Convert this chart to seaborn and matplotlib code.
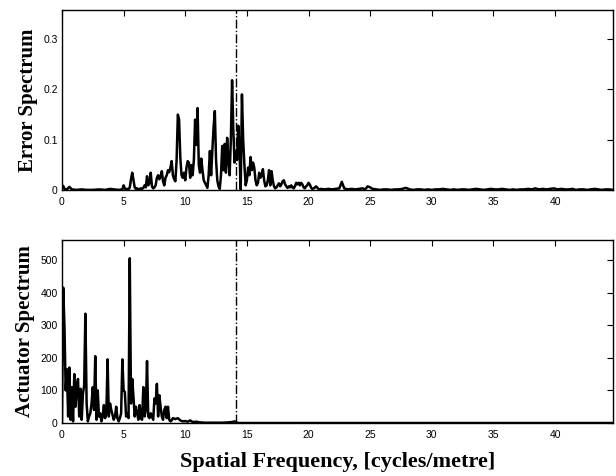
import numpy as np
import pandas as pd
import matplotlib
matplotlib.use("Agg")
import matplotlib.pyplot as plt
import seaborn as sns

# ---- data ----
# error spectrum, low-frequency part (sparse)
err_freq_low = [0, 0.1, 0.2, 0.4, 0.6, 0.8, 1.2, 1.6, 2.0, 2.5, 3.0, 3.5, 3.9, 4.2, 4.6, 4.9]
err_vals_low = [0.004, 0.009, 0.003, 0.002, 0.007, 0.002, 0.001, 0.002, 0.001, 0.001,
                0.002, 0.001, 0.003, 0.002, 0.001, 0.002]

# error spectrum, 5.0 .. 21.0 in steps of 0.1
err_freq_mid = np.round(np.arange(5.0, 21.05, 0.1), 1)
err_vals_mid = [
    0.010, 0.004, 0.002, 0.003, 0.002, 0.006, 0.022, 0.035, 0.020, 0.006,   # 5.0
    0.003, 0.004, 0.002, 0.003, 0.004, 0.003, 0.005, 0.010, 0.006, 0.028,   # 6.0
    0.010, 0.015, 0.035, 0.008, 0.004, 0.006, 0.010, 0.025, 0.030, 0.022,   # 7.0
    0.028, 0.038, 0.018, 0.010, 0.025, 0.030, 0.040, 0.036, 0.045, 0.058,   # 8.0
    0.030, 0.022, 0.018, 0.060, 0.150, 0.140, 0.065, 0.030, 0.025, 0.035,   # 9.0
    0.020, 0.045, 0.058, 0.055, 0.025, 0.050, 0.030, 0.060, 0.140, 0.090,   # 10.0
    0.163, 0.050, 0.035, 0.063, 0.040, 0.020, 0.015, 0.010, 0.005, 0.030,   # 11.0
    0.078, 0.030, 0.080, 0.125, 0.157, 0.060, 0.020, 0.008, 0.003, 0.030,   # 12.0
    0.088, 0.040, 0.092, 0.035, 0.104, 0.060, 0.030, 0.100, 0.218, 0.120,   # 13.0
    0.055, 0.078, 0.060, 0.128, 0.080, 0.002, 0.190, 0.100, 0.050, 0.010,   # 14.0
    0.020, 0.045, 0.030, 0.066, 0.040, 0.055, 0.045, 0.020, 0.010, 0.015,   # 15.0
    0.035, 0.025, 0.030, 0.042, 0.020, 0.008, 0.010, 0.020, 0.040, 0.010,   # 16.0
    0.038, 0.020, 0.008, 0.004, 0.006, 0.010, 0.014, 0.008, 0.012, 0.018,   # 17.0
    0.020, 0.012, 0.008, 0.005, 0.008, 0.006, 0.010, 0.006, 0.004, 0.008,   # 18.0
    0.015, 0.012, 0.015, 0.010, 0.015, 0.012, 0.006, 0.004, 0.008, 0.010,   # 19.0
    0.015, 0.012, 0.006, 0.003, 0.004, 0.005, 0.008, 0.006, 0.003, 0.002,   # 20.0
    0.003,
]

# error spectrum, high-frequency tail (sparse)
err_freq_high = [21.3, 21.6, 21.9, 22.2, 22.5, 22.7, 22.9, 23.2, 23.5, 23.8, 24.1, 24.4,
                 24.6, 24.8, 25.0, 25.2, 25.5, 25.8, 26.1, 26.4, 26.7, 27.0, 27.3, 27.6,
                 27.9, 28.2, 28.5, 28.8, 29.1, 29.4, 29.7, 30.0, 30.3, 30.6, 30.9, 31.2,
                 31.5, 31.8, 32.1, 32.4, 32.7, 33.0, 33.3, 33.6, 33.9, 34.2, 34.5, 34.8,
                 35.1, 35.4, 35.7, 36.0, 36.3, 36.6, 36.9, 37.2, 37.5, 37.8, 38.1, 38.4,
                 38.7, 39.0, 39.3, 39.6, 39.9, 40.2, 40.5, 40.8, 41.1, 41.4, 41.7, 42.0,
                 42.3, 42.6, 42.9, 43.2, 43.5, 43.8, 44.1, 44.4, 44.7]
err_vals_high = [0.002, 0.003, 0.002, 0.003, 0.004, 0.017, 0.004, 0.002, 0.003, 0.002, 0.003, 0.004,
                 0.002, 0.008, 0.006, 0.003, 0.002, 0.001, 0.002, 0.002, 0.001, 0.002, 0.002, 0.003,
                 0.005, 0.002, 0.001, 0.002, 0.002, 0.001, 0.002, 0.001, 0.002, 0.002, 0.003, 0.002,
                 0.001, 0.002, 0.001, 0.002, 0.002, 0.001, 0.002, 0.003, 0.002, 0.001, 0.002, 0.003,
                 0.002, 0.002, 0.003, 0.002, 0.001, 0.002, 0.001, 0.002, 0.002, 0.003, 0.002, 0.004,
                 0.002, 0.003, 0.002, 0.003, 0.004, 0.002, 0.003, 0.002, 0.002, 0.003, 0.001, 0.002,
                 0.002, 0.001, 0.002, 0.003, 0.002, 0.001, 0.002, 0.002, 0.001]

# actuator spectrum, 0.0 .. 9.0 in steps of 0.1
act_freq_low = np.round(np.arange(0.0, 9.05, 0.1), 1)
act_vals_low = [
    0, 415, 300, 100, 165, 20, 170, 10, 110, 5,          # 0.0
    150, 50, 110, 135, 20, 105, 10, 90, 115, 335,        # 1.0
    60, 5, 20, 30, 60, 110, 40, 205, 10, 100,            # 2.0
    20, 30, 5, 20, 55, 15, 30, 195, 20, 60,              # 3.0
    40, 25, 10, 20, 50, 15, 5, 15, 30, 195,              # 4.0
    100, 95, 20, 30, 15, 505, 60, 135, 80, 20,           # 5.0
    50, 30, 10, 55, 15, 10, 110, 20, 40, 190,            # 6.0
    20, 15, 30, 20, 10, 75, 60, 120, 20, 85,             # 7.0
    50, 20, 10, 40, 50, 15, 50, 10, 5, 8,                # 8.0
    15,
]
act_freq_high = [9.2, 9.4, 9.6, 9.8, 10.0, 10.2, 10.4, 10.6, 10.9, 11.2, 11.6, 12.0,
                 12.5, 13.0, 13.5, 13.8, 14.0, 14.1, 14.3, 20.0, 30.0, 44.7]
act_vals_high = [12, 15, 8, 5, 6, 4, 8, 3, 4, 2, 1, 1,
                 1, 1, 2, 3, 5, 3, 0, 0, 0, 0]

cutoff = 14.1
x_ticks = [0, 5, 10, 15, 20, 25, 30, 35, 40]
err_ticks = [0, 0.1, 0.2, 0.3]
act_ticks = [0, 100, 200, 300, 400, 500]

err = pd.DataFrame({
    "freq": np.concatenate([err_freq_low, err_freq_mid, err_freq_high]),
    "val": np.concatenate([err_vals_low, err_vals_mid, err_vals_high]),
})
act = pd.DataFrame({
    "freq": np.concatenate([act_freq_low, act_freq_high]),
    "val": np.concatenate([act_vals_low, act_vals_high]),
})

# ---- plot ----
sns.set_style("white")
plt.rcParams["font.family"] = ["Liberation Sans", "DejaVu Sans"]
plt.rcParams["text.color"] = "black"
plt.rcParams["axes.labelcolor"] = "black"

fig = plt.figure(figsize=(6.16, 4.76), dpi=100)
ax1 = fig.add_axes([0.1006, 0.600, 0.8945, 0.380])
ax2 = fig.add_axes([0.1006, 0.1113, 0.8945, 0.3845])

label_font = dict(family="Liberation Serif", weight="bold", size=15, color="black")

for ax, df, yt, ylim, ylab in [
    (ax1, err, err_ticks, 0.358, "Error Spectrum"),
    (ax2, act, act_ticks, 561, "Actuator Spectrum"),
]:
    sns.lineplot(data=df, x="freq", y="val", ax=ax, color="black", lw=1.8,
                 estimator=None, sort=False)
    ax.axvline(cutoff, color="black", lw=1.0, ls="-.")
    ax.set_xlim(0, 44.7)
    ax.set_ylim(0, ylim)
    ax.set_xticks(x_ticks)
    ax.set_yticks(yt)
    ax.set_xticklabels([str(t) for t in x_ticks])
    ax.set_yticklabels([f"{t:g}" for t in yt])
    ax.tick_params(direction="in", length=4, width=0.8, top=True, right=True,
                   labelsize=7.5, colors="black")
    ax.tick_params(axis="x", pad=5)
    ax.tick_params(axis="y", pad=3)
    ax.set_ylabel(ylab, fontdict=label_font, labelpad=4)
    ax.set_xlabel("")
    for s in ax.spines.values():
        s.set_color("black")
        s.set_linewidth(1.0)

ax2.set_xlabel("Spatial Frequency, [cycles/metre]",
               fontdict=dict(family="Liberation Serif", weight="bold", size=16, color="black"),
               labelpad=9)

fig.savefig("out.png", dpi=100)
